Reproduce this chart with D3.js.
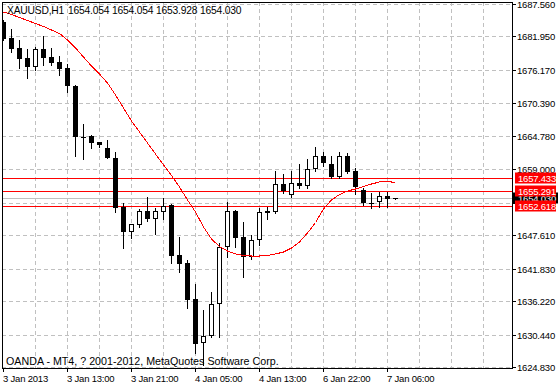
<!DOCTYPE html>
<html>
<head>
<meta charset="utf-8">
<script src="https://cdnjs.cloudflare.com/ajax/libs/d3/7.8.5/d3.min.js"></script>
<style>
  body { margin: 0; background: #fff; }
  svg { display: block; }
  .lbl { font-family: "Liberation Sans", Arial, sans-serif; font-size: 9.5px; letter-spacing: -0.2px; }
  .head { font-family: "Liberation Sans", Arial, sans-serif; font-size: 10.3px; letter-spacing: -0.2px; }
  .copy { font-family: "Liberation Sans", Arial, sans-serif; font-size: 10.7px; }
</style>
</head>
<body>
<div id="chart"></div>
<script>
// XAUUSD H1, bars from 3 Jan 2013 05:00 to 7 Jan 07:00
const symbol = "XAUUSD,H1";
const opens = [1684.50, 1681.74, 1680.01, 1678.28, 1676.72, 1679.78, 1678.45, 1677.59, 1676.45, 1673.39,
  1664.60, 1664.75, 1663.66, 1662.73, 1661.00, 1652.53, 1648.21, 1649.37, 1651.79, 1650.41,
  1651.67, 1652.83, 1644.18, 1642.85, 1636.58, 1628.93, 1630.24, 1635.67, 1645.62, 1651.79,
  1647.35, 1643.89, 1646.78, 1651.39, 1651.67, 1656.40, 1654.55, 1656.58, 1656.16, 1658.99,
  1661.29, 1659.91, 1657.72, 1661.29, 1658.70, 1655.42, 1653.17, 1653.29, 1654.43, 1654.054];
const highs = [1684.80, 1683.19, 1681.34, 1679.73, 1680.18, 1682.08, 1679.90, 1678.57, 1677.14, 1673.56,
  1666.77, 1664.84, 1663.76, 1664.06, 1661.93, 1653.22, 1649.54, 1652.08, 1654.16, 1652.26,
  1653.98, 1652.95, 1647.35, 1643.32, 1639.17, 1634.68, 1637.74, 1646.21, 1653.40, 1651.96,
  1649.94, 1647.64, 1652.26, 1652.53, 1658.70, 1658.13, 1658.70, 1659.86, 1660.77, 1662.80,
  1662.04, 1661.34, 1662.04, 1661.76, 1659.17, 1655.81, 1654.85, 1655.12, 1655.12, 1654.054];
const lows = [1681.34, 1679.32, 1676.55, 1674.82, 1676.15, 1677.02, 1677.02, 1675.29, 1672.40, 1661.34,
  1660.72, 1662.62, 1662.90, 1660.90, 1651.56, 1645.34, 1647.07, 1649.08, 1650.11, 1647.81,
  1650.41, 1642.75, 1641.30, 1635.08, 1627.20, 1625.18, 1630.07, 1630.07, 1643.89, 1645.62,
  1640.43, 1643.44, 1645.91, 1650.35, 1651.39, 1654.85, 1654.26, 1655.71, 1655.82, 1658.70,
  1659.62, 1657.44, 1657.44, 1658.30, 1654.67, 1652.83, 1652.26, 1652.53, 1652.53, 1653.928];
const closes = [1681.46, 1679.78, 1678.06, 1676.72, 1679.78, 1678.28, 1677.42, 1676.33, 1673.39, 1664.63,
  1664.66, 1663.59, 1663.19, 1660.95, 1652.36, 1648.11, 1649.49, 1651.79, 1650.41, 1651.79,
  1652.70, 1644.01, 1642.63, 1636.41, 1628.80, 1630.24, 1635.72, 1645.62, 1651.79, 1647.17,
  1643.89, 1646.78, 1651.56, 1651.79, 1656.40, 1655.24, 1656.58, 1656.16, 1658.99, 1661.29,
  1660.03, 1657.72, 1661.29, 1658.58, 1655.99, 1653.12, 1653.22, 1654.43, 1653.86, 1654.030];
const maValues = [1686.18, 1685.75, 1685.23, 1684.71, 1684.19, 1683.67, 1683.07, 1682.46, 1681.34, 1679.96,
  1678.40, 1676.85, 1675.46, 1673.91, 1671.83, 1669.59, 1667.34, 1665.44, 1663.54, 1661.64,
  1659.74, 1657.92, 1655.94, 1653.69, 1651.62, 1649.02, 1646.95, 1645.65, 1644.88, 1644.36,
  1644.10, 1644.01, 1644.01, 1644.10, 1644.36, 1644.70, 1645.39, 1646.43, 1647.99, 1649.80,
  1652.13, 1653.69, 1654.64, 1655.24, 1655.59, 1656.02, 1656.45, 1656.80, 1656.89, 1656.71];

const priceTicks = [1687.560, 1681.950, 1676.170, 1670.390, 1664.780, 1659.000,
  1653.220, 1647.610, 1641.830, 1636.220, 1630.440, 1624.830];
const timeTickIdx = [0, 8, 16, 24, 32, 40, 48];
const timeTickLabels = ["3 Jan 2013", "3 Jan 13:00", "3 Jan 21:00", "4 Jan 05:00",
  "4 Jan 13:00", "6 Jan 22:00", "7 Jan 06:00"];
const levels = [1657.433, 1655.291, 1652.618];
const bid = closes[closes.length - 1];
const copyright = "OANDA - MT4, ? 2001-2012, MetaQuotes Software Corp.";

const W = 558, H = 387;
const pLeft = 2, pRight = 512, pTop = 2, pBottom = 368;

const svg = d3.select("#chart").append("svg")
  .attr("width", W)
  .attr("height", H);

svg.append("rect").attr("width", W).attr("height", H).attr("fill", "#fff");

// 8 px per bar, first bar centred on x=3
const x = d3.scaleLinear().domain([0, 1]).range([3, 11]);
const y = d3.scaleLinear().domain([1624.83, 1687.56]).range([367, 4]);
const row = v => Math.round(y(v));

svg.append("clipPath").attr("id", "plot")
  .append("rect").attr("x", pLeft + 1).attr("y", pTop + 1)
  .attr("width", pRight - pLeft - 1).attr("height", pBottom - pTop - 1);

const plot = svg.append("g").attr("clip-path", "url(#plot)");

// grid
const vGrid = d3.range(4, 64, 4).filter(i => x(i) < pRight);
plot.append("g").selectAll("line").data(vGrid).join("line")
  .attr("x1", d => Math.round(x(d)) + 0.5).attr("x2", d => Math.round(x(d)) + 0.5)
  .attr("y1", pTop).attr("y2", pBottom)
  .attr("stroke", "#c0c0c0").attr("stroke-dasharray", "4,3");
plot.append("g").selectAll("line").data(priceTicks).join("line")
  .attr("x1", pLeft).attr("x2", pRight)
  .attr("y1", d => row(d) + 0.5).attr("y2", d => row(d) + 0.5)
  .attr("stroke", "#c0c0c0").attr("stroke-dasharray", "4,3");

// bid line
plot.append("line")
  .attr("x1", pLeft).attr("x2", pRight)
  .attr("y1", row(bid) + 0.5).attr("y2", row(bid) + 0.5)
  .attr("stroke", "#c0c0c0");

// horizontal levels
plot.append("g").selectAll("line").data(levels).join("line")
  .attr("x1", pLeft).attr("x2", pRight)
  .attr("y1", d => row(d) + 0.5).attr("y2", d => row(d) + 0.5)
  .attr("stroke", "#ff0000");

// candles
const bars = opens.map((o, i) => ({ i, o, h: highs[i], l: lows[i], c: closes[i] }));
const cg = plot.append("g");
bars.forEach(b => {
  const cx = Math.round(x(b.i));
  cg.append("line")
    .attr("x1", cx + 0.5).attr("x2", cx + 0.5)
    .attr("y1", row(b.h)).attr("y2", row(b.l) + 1)
    .attr("stroke", "#000");
  const t = row(Math.max(b.o, b.c));
  const btm = row(Math.min(b.o, b.c));
  if (btm - t < 2) {
    cg.append("rect").attr("x", cx - 2).attr("y", t)
      .attr("width", 5).attr("height", Math.max(1, btm - t)).attr("fill", "#000");
  } else if (b.c < b.o) {
    cg.append("rect").attr("x", cx - 2).attr("y", t)
      .attr("width", 5).attr("height", btm - t).attr("fill", "#000");
  } else {
    cg.append("rect").attr("x", cx - 2 + 0.5).attr("y", t + 0.5)
      .attr("width", 4).attr("height", btm - t - 1)
      .attr("fill", "#fff").attr("stroke", "#000");
  }
});

// moving average
const maLine = d3.line()
  .x((d, i) => Math.round(x(i)) + 0.5)
  .y(d => y(d));
plot.append("path")
  .datum(maValues)
  .attr("fill", "none")
  .attr("stroke", "#ff0000")
  .attr("stroke-width", 1)
  .attr("shape-rendering", "crispEdges")
  .attr("d", maLine);

// frame
svg.append("rect")
  .attr("x", pLeft + 0.5).attr("y", pTop + 0.5)
  .attr("width", pRight - pLeft).attr("height", pBottom - pTop)
  .attr("fill", "none").attr("stroke", "#000");

// price axis
const pa = svg.append("g");
pa.selectAll("line").data(priceTicks).join("line")
  .attr("x1", pRight).attr("x2", pRight + 4)
  .attr("y1", d => row(d) + 0.5).attr("y2", d => row(d) + 0.5)
  .attr("stroke", "#000");
pa.selectAll("text").data(priceTicks).join("text")
  .attr("class", "lbl")
  .attr("x", pRight + 5)
  .attr("y", d => row(d) + 4)
  .attr("fill", "#000")
  .text(d => d.toFixed(3));

// bid tag then level tags
const tags = svg.append("g");
tags.append("rect")
  .attr("x", pRight + 1).attr("y", row(bid) - 5.5)
  .attr("width", W - pRight - 1).attr("height", 11)
  .attr("fill", "#000");
tags.append("text").attr("class", "lbl")
  .attr("x", pRight + 6).attr("y", row(bid) + 4)
  .attr("fill", "#fff").text(bid.toFixed(3));
levels.forEach(v => {
  tags.append("rect")
    .attr("x", pRight + 3).attr("y", row(v) - 5.5)
    .attr("width", 41).attr("height", 11)
    .attr("fill", "#ff0000");
  tags.append("text").attr("class", "lbl")
    .attr("x", pRight + 6).attr("y", row(v) + 4)
    .attr("fill", "#fff").text(v.toFixed(3));
});

// time axis
const ta = svg.append("g");
ta.selectAll("line").data(timeTickIdx).join("line")
  .attr("x1", d => Math.round(x(d)) + 0.5).attr("x2", d => Math.round(x(d)) + 0.5)
  .attr("y1", pBottom).attr("y2", pBottom + 4)
  .attr("stroke", "#000");
ta.selectAll("text").data(timeTickIdx).join("text")
  .attr("class", "lbl")
  .attr("x", d => Math.round(x(d)))
  .attr("y", 382)
  .text((d, i) => timeTickLabels[i]);

// header
const last = bars[bars.length - 1];
svg.append("text").attr("class", "head")
  .attr("x", 7).attr("y", 14).text(symbol);
svg.append("text").attr("class", "head")
  .attr("x", 68).attr("y", 14)
  .text([last.o, last.h, last.l, last.c].map(v => v.toFixed(3)).join(" "));

svg.append("text").attr("class", "copy")
  .attr("x", 6).attr("y", 365).text(copyright);
</script>
</body>
</html>
